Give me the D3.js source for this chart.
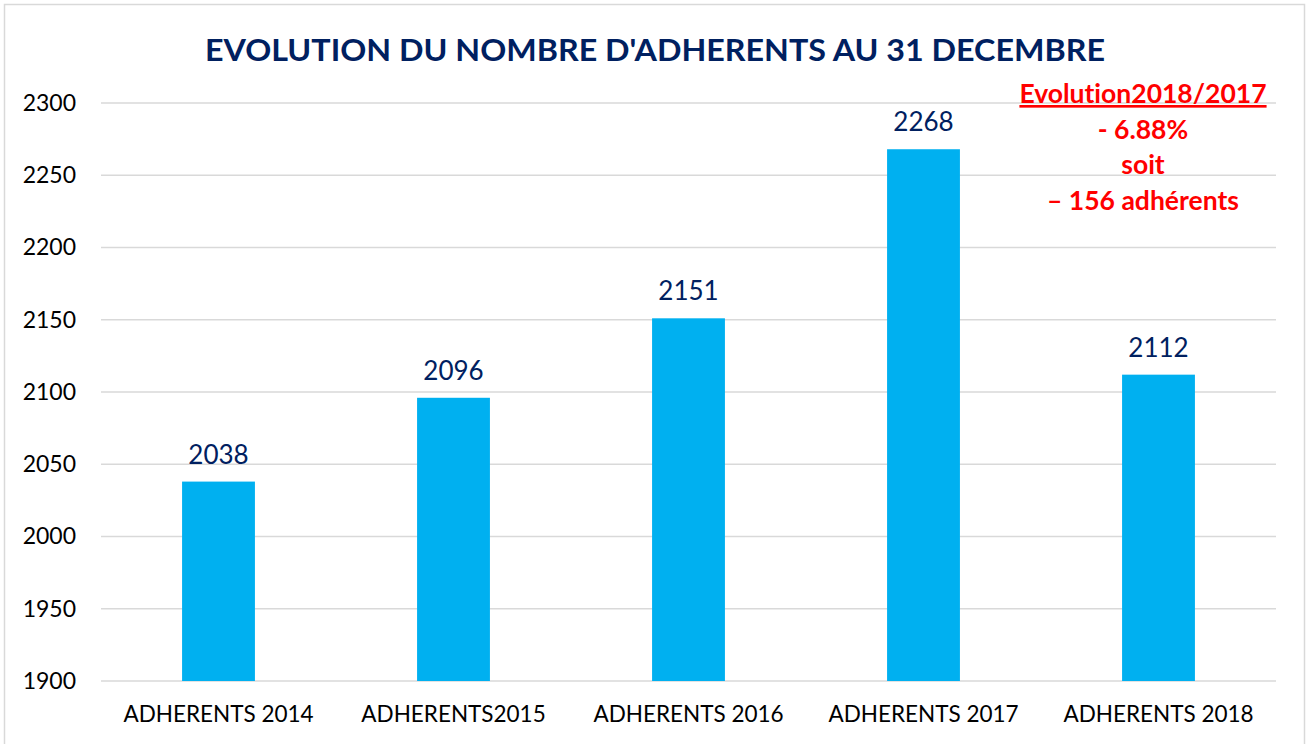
<!DOCTYPE html>
<html>
<head>
<meta charset="utf-8">
<script src="https://cdn.jsdelivr.net/npm/d3@7"></script>
<style>
  body { margin: 0; background: #fff; }
  svg text { font-family: Lato, "Open Sans", sans-serif; font-variant-ligatures: none; }
</style>
</head>
<body>
<div id="chart"></div>
<script>
// data
const categories = ["ADHERENTS 2014", "ADHERENTS2015", "ADHERENTS 2016", "ADHERENTS 2017", "ADHERENTS 2018"];
const adherents = [2038, 2096, 2151, 2268, 2112];
const yTicks = [1900, 1950, 2000, 2050, 2100, 2150, 2200, 2250, 2300];
const noteLines = ["Evolution2018/2017", "- 6.88%", "soit", "\u2013 156 adh\u00e9rents"];

var width = 1307,
    height = 744;
var margin = {top: 103, right: 31, bottom: 63, left: 101};

var svg = d3.select("#chart")
            .append("svg")
            .attr("width", width)
            .attr("height", height);

// outer frame
svg.append("rect")
   .attr("x", 4.5).attr("y", 4.5)
   .attr("width", 1300).attr("height", 745)
   .attr("fill", "none")
   .attr("stroke", "#d9d9d9")
   .attr("stroke-width", 1.5);

var xScale = d3.scaleBand()
               .domain(categories)
               .range([margin.left, width - margin.right])
               .paddingInner(0.69)
               .paddingOuter(0.345);

var yScale = d3.scaleLinear()
               .domain([1900, 2300])
               .range([height - margin.bottom, margin.top]);

// gridlines
svg.append("g")
   .selectAll("line")
   .data(yTicks)
   .enter()
   .append("line")
   .attr("x1", margin.left)
   .attr("x2", width - margin.right)
   .attr("y1", d => yScale(d))
   .attr("y2", d => yScale(d))
   .attr("stroke", "#d9d9d9")
   .attr("stroke-width", 1.5);

// y axis labels
var yAxis = d3.axisLeft(yScale).tickValues(yTicks).tickFormat(d3.format("d")).tickSize(0).tickPadding(25);
var gy = svg.append("g")
            .attr("transform", "translate(" + margin.left + ",0)")
            .call(yAxis);
gy.select(".domain").remove();
gy.selectAll("text")
  .attr("font-family", "Lato, sans-serif")
  .style("font-size", "23px")
  .attr("fill", "#000");

// x axis labels
var xAxis = d3.axisBottom(xScale).tickSize(0).tickPadding(25);
var gx = svg.append("g")
            .attr("transform", "translate(0," + (height - margin.bottom) + ")")
            .call(xAxis);
gx.select(".domain").remove();
gx.selectAll("text")
  .attr("font-family", "Lato, sans-serif")
  .style("font-size", "22.5px")
  .attr("fill", "#000");

// bars
svg.append("g")
   .selectAll("rect")
   .data(adherents)
   .enter()
   .append("rect")
   .attr("x", (d, i) => xScale(categories[i]))
   .attr("y", d => yScale(d))
   .attr("width", xScale.bandwidth())
   .attr("height", d => yScale(1900) - yScale(d))
   .style("fill", "#00b0f0");

// value labels
svg.append("g")
   .selectAll("text")
   .data(adherents)
   .enter()
   .append("text")
   .attr("x", (d, i) => xScale(categories[i]) + xScale.bandwidth() / 2)
   .attr("y", d => yScale(d) - 18)
   .attr("text-anchor", "middle")
   .style("font-size", "26px")
   .attr("fill", "#002060")
   .text(d => d);

// title
svg.append("text")
   .attr("x", 655)
   .attr("y", 61)
   .attr("text-anchor", "middle")
   .style("font-size", "31px")
   .style("font-weight", "bold")
   .attr("fill", "#002060")
   .attr("textLength", 900)
   .attr("lengthAdjust", "spacingAndGlyphs")
   .text("EVOLUTION DU NOMBRE D'ADHERENTS AU 31 DECEMBRE");

// red note
svg.append("g")
   .selectAll("text")
   .data(noteLines)
   .enter()
   .append("text")
   .attr("x", 1143)
   .attr("y", (d, i) => 103 + i * 35.7)
   .attr("text-anchor", "middle")
   .style("font-size", "26.5px")
   .style("font-weight", "bold")
   .style("text-decoration", (d, i) => i == 0 ? "underline" : "none")
   .attr("fill", "#ff0000")
   .text(d => d);
</script>
</body>
</html>
